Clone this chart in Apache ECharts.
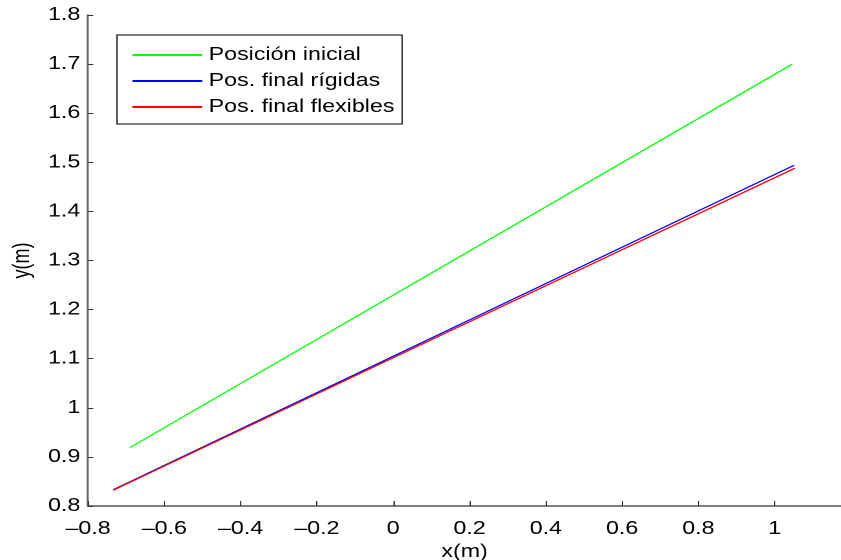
<!DOCTYPE html>
<html>
<head>
<meta charset="utf-8">
<script src="https://cdn.jsdelivr.net/npm/echarts@6/dist/echarts.min.js"></script>
<style>
  html, body { margin: 0; padding: 0; background: #fff; overflow: hidden; }
  #wrap { width: 841px; height: 560px; overflow: hidden; }
  /* the figure is drawn narrower and widened horizontally, as in the exported plot */
  #chart { height: 560px; transform-origin: 0 0; }
</style>
</head>
<body>
<div id="wrap"><div id="chart"></div></div>
<script>
// Series names shown in the legend
const seriesNames = ['Posición inicial', 'Pos. final rígidas', 'Pos. final flexibles'];

// Bar endpoints (x, y) in metres
const posInicial = [[-0.690, 0.919], [1.046, 1.700]];
const posRigidas = [[-0.734, 0.833], [0.0, 1.105], [1.051, 1.494]];
const posFlexibles = [[-0.734, 0.832], [0.0, 1.102], [1.053, 1.488]];

const seriesColors = ['#00ff00', '#0000ff', '#ff0000'];

const font = 'Liberation Sans, Arial, Helvetica, sans-serif';

// horizontal stretch of the exported figure
const S = 1.29;
const W = 841 / S;
const el = document.getElementById('chart');
el.style.width = W + 'px';
el.style.transform = 'scaleX(' + S + ')';

function fmt(v) {
  const s = (Math.round(v * 10) / 10).toString();
  return s.replace('-', '\u2013');
}

const chart = echarts.init(el, null, { renderer: 'canvas', devicePixelRatio: 2 });

const data = [posInicial, posRigidas, posFlexibles];

chart.setOption({
  animation: false,
  backgroundColor: '#fff',
  grid: { left: 88 / S, top: 15, right: 0, bottom: 54, containLabel: false, outerBoundsMode: 'none' },
  xAxis: {
    type: 'value',
    min: -0.8,
    max: 1.174,
    interval: 0.2,
    name: 'x(m)',
    nameLocation: 'middle',
    nameGap: 31,
    nameTextStyle: { fontFamily: font, fontSize: 18, color: '#000' },
    axisLine: { show: true, onZero: false, lineStyle: { color: '#555', width: 1.5 } },
    axisTick: { show: true, inside: true, length: 5, lineStyle: { color: '#333' } },
    axisLabel: {
      showMaxLabel: false,
      margin: 14,
      fontFamily: font, fontSize: 18, color: '#000',
      formatter: fmt
    },
    splitLine: { show: false }
  },
  yAxis: {
    type: 'value',
    min: 0.8,
    max: 1.8,
    interval: 0.1,
    name: 'y(m)',
    nameLocation: 'middle',
    nameGap: 26,
    nameRotate: 90,
    nameTextStyle: { fontFamily: font, fontSize: 18, color: '#000' },
    axisLine: { show: true, onZero: false, lineStyle: { color: '#666', width: 1.5 } },
    axisTick: { show: true, inside: true, length: 4, lineStyle: { color: '#333' } },
    axisLabel: { margin: 6, fontFamily: font, fontSize: 18, color: '#000', formatter: fmt },
    splitLine: { show: false }
  },
  legend: {
    orient: 'vertical',
    left: 117 / S,
    top: 35,
    padding: [11, 6, 8, 11],
    itemWidth: 54,
    itemHeight: 14,
    itemGap: 8,
    borderColor: '#000',
    borderWidth: 1,
    borderRadius: 0,
    backgroundColor: '#fff',
    itemStyle: { opacity: 0 },
    textStyle: { fontFamily: font, fontSize: 18, color: '#000' },
    data: seriesNames
  },
  series: data.map((d, i) => ({
    name: seriesNames[i],
    type: 'line',
    data: d,
    symbol: 'none',
    lineStyle: { color: seriesColors[i], width: 1.2 },
    itemStyle: { color: seriesColors[i] },
    z: 2 + i
  }))
});
</script>
</body>
</html>
